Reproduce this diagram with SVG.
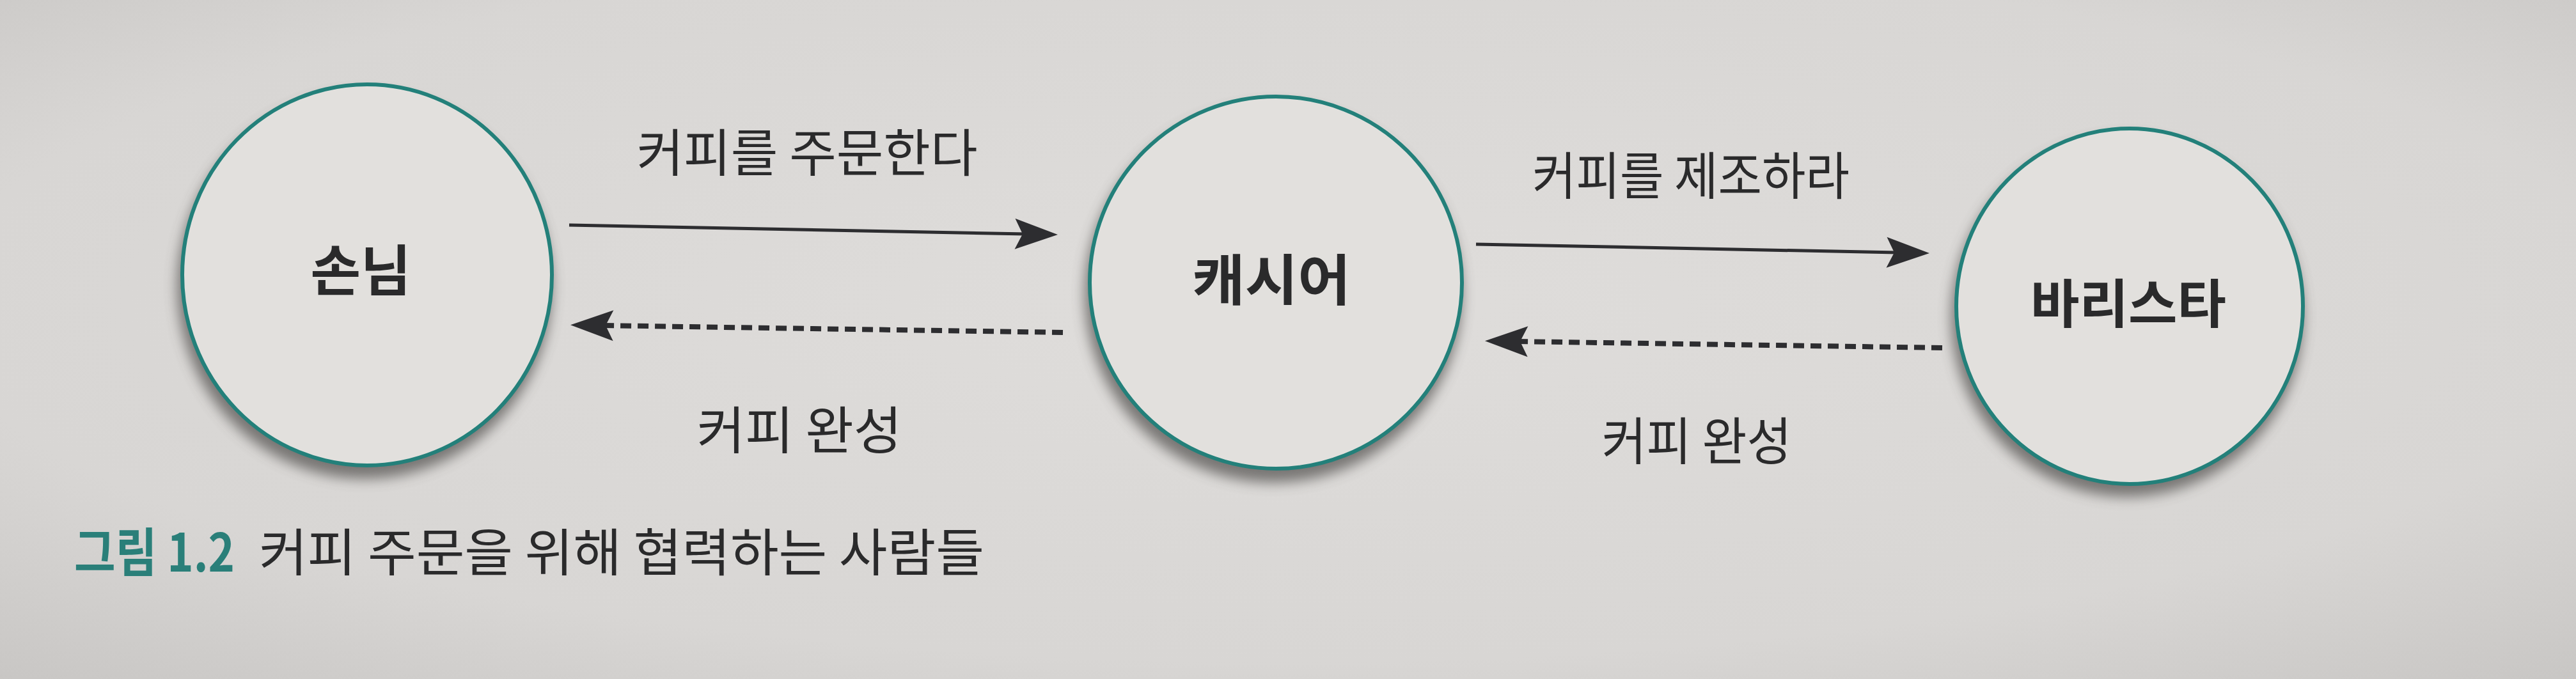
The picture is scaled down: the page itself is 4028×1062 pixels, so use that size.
<svg xmlns="http://www.w3.org/2000/svg" width="4028" height="1062" viewBox="0 0 4028 1062">
  <style>
    .node-shape { fill: #e2e0dd; stroke: #23807a; stroke-width: 6; }
    .node-shadow { fill: #4f4d4b; opacity: 0.7; filter: url(#blur); }
    .node-label { font-family: "Noto Sans CJK KR", "Noto Sans", sans-serif; font-weight: 700; fill: #2a2a2b; text-anchor: middle; }
    .edge-label { font-family: "Noto Sans CJK KR", "Noto Sans", sans-serif; font-weight: 400; fill: #2a2a2b; text-anchor: middle; }
    .solid { stroke: #2d2d30; stroke-width: 5; fill: none; marker-end: url(#arrow); }
    .dashed { stroke: #2d2d30; stroke-width: 8; fill: none; stroke-dasharray: 17 10; marker-end: url(#arrow); }
    .cap-num { font-family: "Noto Sans CJK KR", "Noto Sans", sans-serif; font-weight: 700; fill: #2a7f79; }
    .cap-text { font-family: "Noto Sans CJK KR", "Noto Sans", sans-serif; font-weight: 400; fill: #2a2a2b; }
  </style>
  <defs>
    <radialGradient id="bg" cx="0.5" cy="0.45" r="0.75">
      <stop offset="0" stop-color="#dfdddb"/>
      <stop offset="0.7" stop-color="#d8d6d4"/>
      <stop offset="1" stop-color="#c8c6c4"/>
    </radialGradient>
    <filter id="blur" x="-20%" y="-20%" width="140%" height="140%">
      <feGaussianBlur stdDeviation="10"/>
    </filter>
    <marker id="arrow" markerUnits="userSpaceOnUse" viewBox="0 0 67 48" refX="17" refY="24" markerWidth="67" markerHeight="48" orient="auto" overflow="visible">
      <path d="M0,0 L67,24 L0,48 L12,24 Z" fill="#2d2d30"/>
    </marker>
  </defs>

  <rect x="0" y="0" width="4028" height="1062" fill="url(#bg)"/>

  <g id="node-customer">
    <ellipse class="node-shadow" cx="570" cy="448" rx="293" ry="301"/>
    <ellipse class="node-shape" cx="574" cy="430" rx="289" ry="298"/>
    <text class="node-label" x="564" y="455" font-size="86" textLength="157" lengthAdjust="spacingAndGlyphs">손님</text>
  </g>

  <g id="node-cashier">
    <ellipse class="node-shadow" cx="1991" cy="460" rx="295" ry="295"/>
    <ellipse class="node-shape" cx="1995" cy="442" rx="291" ry="291"/>
    <text class="node-label" x="1988" y="470" font-size="86" textLength="248" lengthAdjust="spacingAndGlyphs">캐시어</text>
  </g>

  <g id="node-barista">
    <ellipse class="node-shadow" cx="3326" cy="496" rx="275" ry="281"/>
    <ellipse class="node-shape" cx="3330" cy="479" rx="271" ry="278"/>
    <text class="node-label" x="3328" y="505" font-size="82" textLength="306" lengthAdjust="spacingAndGlyphs">바리스타</text>
  </g>

  <g id="connectors">
    <line class="solid" x1="890" y1="352" x2="1604" y2="366"/>
    <line class="dashed" x1="1662" y1="520" x2="942" y2="509"/>
    <line class="solid" x1="2308" y1="382" x2="2967" y2="395"/>
    <line class="dashed" x1="3037" y1="544" x2="2372" y2="534"/>
  </g>

  <g id="edge-labels">
    <text class="edge-label" x="1262" y="268" font-size="80" textLength="533" lengthAdjust="spacingAndGlyphs">커피를 주문한다</text>
    <text class="edge-label" x="1250" y="702" font-size="80" textLength="321" lengthAdjust="spacingAndGlyphs">커피 완성</text>
    <text class="edge-label" x="2644" y="304" font-size="80" textLength="496" lengthAdjust="spacingAndGlyphs">커피를 제조하라</text>
    <text class="edge-label" x="2653" y="719" font-size="80" textLength="297" lengthAdjust="spacingAndGlyphs">커피 완성</text>
  </g>

  <g id="caption">
    <text class="cap-num" x="116" y="894" font-size="82" textLength="251" lengthAdjust="spacingAndGlyphs">그림 1.2</text>
    <text class="cap-text" x="405" y="893" font-size="80" textLength="1134" lengthAdjust="spacingAndGlyphs">커피 주문을 위해 협력하는 사람들</text>
  </g>
</svg>
